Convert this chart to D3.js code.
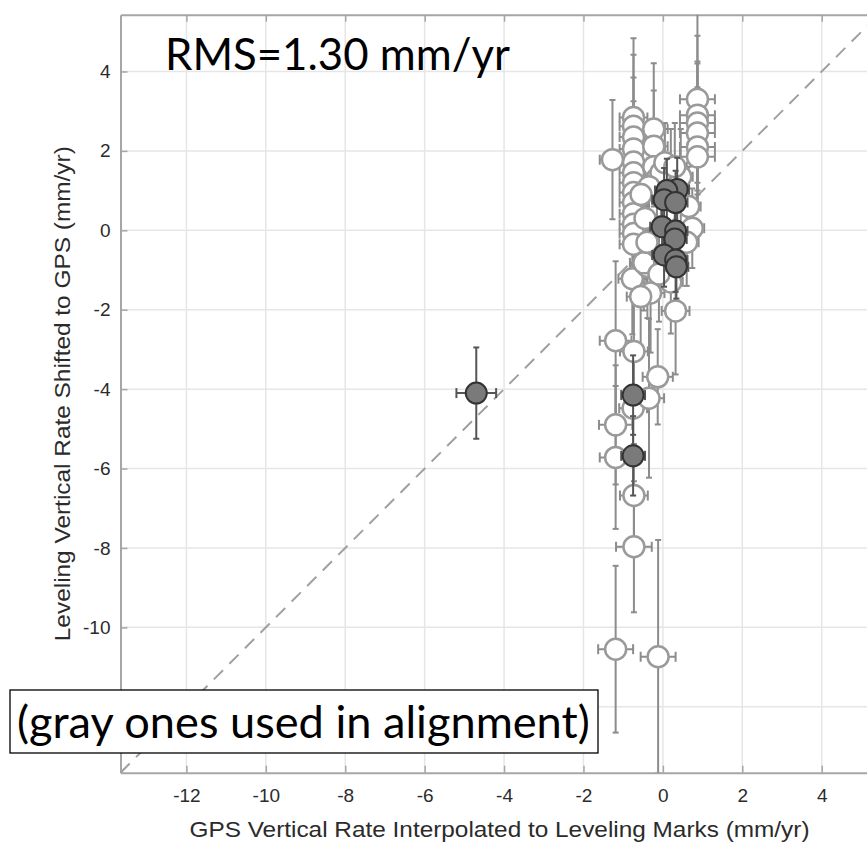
<!DOCTYPE html>
<html><head><meta charset="utf-8">
<script src="https://cdn.jsdelivr.net/npm/d3@7"></script>
<style>html,body{margin:0;padding:0;background:#fff;overflow:hidden}</style>
</head><body>
<svg id="c" width="867" height="843"></svg>
<script>
// White markers: stations not used in alignment
const whiteX    = [-0.74,-0.74,-0.74,-0.74,-0.74,-0.74,-0.74,-0.74,-0.74,-0.74,-0.74,-0.74,-0.74,-0.77,-0.73,-0.75,-0.73,-0.73,
                   -1.27,-1.19,-1.19,-1.19,-1.19,-0.23,-0.23,-0.23,-0.15,0.87,0.87,0.87,0.87,0.87,0.87,
                   0.2,0.45,-0.05,0.74,0.6,0.65,-0.39,-0.48,-0.31,-0.56,0.32,0.2,-0.1,-0.35,-0.13,-0.12,-0.45,-0.4,
                   0.05,0.3,-0.35,-0.55];
const whiteY    = [2.84,2.62,2.35,2.05,1.72,1.45,1.2,0.95,0.7,0.42,0.15,-0.08,-0.35,-1.22,-3.05,-4.48,-6.68,-7.97,
                   1.78,-2.78,-4.9,-5.72,-10.55,2.55,2.12,1.6,1.3,3.3,2.9,2.7,2.45,2.1,1.85,
                   1.55,1.35,1.45,0.05,-0.3,0.6,-0.91,-0.82,-1.58,-1.67,-2.03,-1.3,-1.1,-4.23,-3.69,-10.74,0.3,-0.3,
                   1.7,1.6,1.1,0.9];
const whiteXErr = [0.35,0.35,0.35,0.35,0.35,0.35,0.35,0.35,0.35,0.35,0.35,0.35,0.35,0.35,0.35,0.35,0.35,0.45,
                   0.32,0.4,0.42,0.4,0.44,0.35,0.35,0.35,0.35,0.44,0.44,0.44,0.44,0.44,0.44,
                   0.3,0.3,0.3,0.3,0.3,0.3,0.35,0.35,0.35,0.35,0.35,0.3,0.3,0.38,0.38,0.44,0.3,0.3,
                   0.3,0.3,0.3,0.3];
const whiteYErr = [2.0,1.8,1.5,1.2,1.3,1.1,1.0,1.2,1.0,1.3,1.1,1.2,1.0,1.4,1.5,1.2,1.3,1.65,
                   1.5,2.0,1.5,1.8,2.1,1.66,1.4,1.0,1.0,2.3,2.0,1.5,1.8,1.5,1.2,
                   1.0,1.2,1.1,1.0,1.1,1.0,1.3,1.2,1.5,1.4,1.6,1.3,1.2,2.0,1.2,2.94,1.2,1.2,
                   1.0,1.1,1.2,1.0];
// Gray markers: stations used in alignment
const grayX    = [-4.7,0.36,0.1,0.03,0.32,-0.02,0.32,0.3,0.03,0.32,0.34,-0.75,-0.75];
const grayY    = [-4.1,1.03,1.0,0.77,0.7,0.09,-0.02,-0.22,-0.62,-0.75,-0.92,-4.15,-5.68];
const grayXErr = [0.5,0.3,0.3,0.3,0.3,0.3,0.3,0.3,0.3,0.3,0.3,0.3,0.3];
const grayYErr = [1.15,0.8,0.8,0.8,0.8,0.8,0.8,0.8,0.8,0.8,0.8,1.0,1.0];

const xTicks = [-12,-10,-8,-6,-4,-2,0,2,4];
const yTicks = [-12,-10,-8,-6,-4,-2,0,2,4];
const yTickLabelsShown = [-10,-8,-6,-4,-2,0,2,4];
const axisMin = -13.66, axisMax = 5.43;
const xTitle = "GPS Vertical Rate Interpolated to Leveling Marks (mm/yr)";
const yTitle = "Leveling Vertical Rate Shifted to GPS (mm/yr)";
const rmsText = "RMS=1.30 mm/yr";
const noteText = "(gray ones used in alignment)";

const L = 120.5, T = 14.7, B = 772.7, R = 878.5;
const svg = d3.select("#c");
const x = d3.scaleLinear().domain([axisMin, axisMax]).range([L, R]);
const y = d3.scaleLinear().domain([axisMin, axisMax]).range([B, T]);

svg.append("defs").append("clipPath").attr("id","clip")
  .append("rect").attr("x",L).attr("y",T).attr("width",R-L).attr("height",B-T);

// grid
const grid = svg.append("g");
grid.selectAll(".vg").data(xTicks).join("line")
  .attr("x1",d=>x(d)).attr("x2",d=>x(d)).attr("y1",T).attr("y2",B)
  .attr("stroke","#e6e6e6").attr("stroke-width",1.5);
grid.selectAll(".hg").data(yTicks).join("line")
  .attr("y1",d=>y(d)).attr("y2",d=>y(d)).attr("x1",L).attr("x2",R)
  .attr("stroke","#e6e6e6").attr("stroke-width",1.5);

// axes (ticks inward)
const axCol = "#a6a6a6";
const fmt = d => String(d);
const gB = svg.append("g").attr("transform",`translate(0,${B})`)
  .call(d3.axisBottom(x).tickValues(xTicks).tickFormat(fmt).tickSizeInner(-7).tickSizeOuter(0).tickPadding(17));
const gT = svg.append("g").attr("transform",`translate(0,${T})`)
  .call(d3.axisTop(x).tickValues(xTicks).tickSizeInner(-7).tickSizeOuter(0).tickFormat(""));
const gL = svg.append("g").attr("transform",`translate(${L},0)`)
  .call(d3.axisLeft(y).tickValues(yTicks)
    .tickFormat(d => yTickLabelsShown.includes(d) ? String(d) : "")
    .tickSizeInner(-7).tickSizeOuter(0).tickPadding(17));
[gB,gT,gL].forEach(g=>{
  g.select(".domain").attr("stroke",axCol).attr("stroke-width",2);
  g.selectAll(".tick line").attr("stroke",axCol).attr("stroke-width",1.5);
  g.selectAll(".tick text").attr("fill","#2b2b2b").attr("font-size",19)
    .attr("font-family","'Liberation Sans', Arial, sans-serif");
});
gB.selectAll(".tick text").attr("y",16);
gL.selectAll(".tick text").attr("x",-10);

// 1:1 dashed line
svg.append("line")
  .attr("x1",x(axisMin)).attr("y1",y(axisMin)).attr("x2",x(axisMax)).attr("y2",y(axisMax))
  .attr("stroke","#a0a0a0").attr("stroke-width",2).attr("stroke-dasharray","13,9");

const plot = svg.append("g").attr("clip-path","url(#clip)");

function drawErr(g, xs, ys, xe, ye, col){
  const idx = d3.range(xs.length);
  const cap = 3, capV = 5;
  const eg = g.append("g").attr("stroke",col).attr("stroke-width",2).attr("fill","none");
  idx.forEach(i=>{
    const cx = x(xs[i]), cy = y(ys[i]);
    const y0 = y(ys[i]-ye[i]), y1 = y(ys[i]+ye[i]);
    const x0 = x(xs[i]-xe[i]), x1 = x(xs[i]+xe[i]);
    eg.append("line").attr("x1",cx).attr("x2",cx).attr("y1",y0).attr("y2",y1);
    eg.append("line").attr("x1",cx-cap).attr("x2",cx+cap).attr("y1",y0).attr("y2",y0);
    eg.append("line").attr("x1",cx-cap).attr("x2",cx+cap).attr("y1",y1).attr("y2",y1);
    eg.append("line").attr("x1",x0).attr("x2",x1).attr("y1",cy).attr("y2",cy);
    eg.append("line").attr("x1",x0).attr("x2",x0).attr("y1",cy-capV).attr("y2",cy+capV);
    eg.append("line").attr("x1",x1).attr("x2",x1).attr("y1",cy-capV).attr("y2",cy+capV);
  });
}
drawErr(plot, whiteX, whiteY, whiteXErr, whiteYErr, "#8c8c8c");
plot.append("g").selectAll("circle").data(d3.range(whiteX.length)).join("circle")
  .attr("cx",i=>x(whiteX[i])).attr("cy",i=>y(whiteY[i])).attr("r",10.5)
  .attr("fill","#fff").attr("stroke","#9a9a9a").attr("stroke-width",2.5);
drawErr(plot, grayX, grayY, grayXErr, grayYErr, "#555");
plot.append("g").selectAll("circle").data(d3.range(grayX.length)).join("circle")
  .attr("cx",i=>x(grayX[i])).attr("cy",i=>y(grayY[i])).attr("r",10.5)
  .attr("fill","#7a7a7a").attr("stroke","#333").attr("stroke-width",2);

// axis titles
svg.append("text").attr("x",(L+R)/2).attr("y",837).attr("text-anchor","middle")
  .attr("font-family","'Liberation Sans', Arial, sans-serif").attr("font-size",22).attr("fill","#2b2b2b")
  .attr("textLength",620).attr("lengthAdjust","spacingAndGlyphs").text(xTitle);
svg.append("text").attr("transform",`translate(70,${(T+B)/2}) rotate(-90)`).attr("text-anchor","middle")
  .attr("font-family","'Liberation Sans', Arial, sans-serif").attr("font-size",22).attr("fill","#2b2b2b")
  .attr("textLength",495).attr("lengthAdjust","spacingAndGlyphs").text(yTitle);

function fit(sel, target){
  const w = sel.node().getComputedTextLength();
  const fs = +sel.attr("font-size");
  sel.attr("font-size", fs*target/w);
}
// RMS annotation
const rms = svg.append("text").attr("x",165).attr("y",70)
  .attr("font-family","Lato, 'Open Sans', sans-serif").attr("font-size",40).attr("fill","#000").text(rmsText);
fit(rms, 345);

// note box
svg.append("rect").attr("x",10).attr("y",690).attr("width",588).attr("height",63)
  .attr("fill","#fff").attr("stroke","#000").attr("stroke-width",1.3);
const note = svg.append("text").attr("x",17).attr("y",738)
  .attr("font-family","Lato, 'Open Sans', sans-serif").attr("font-size",40).attr("fill","#000").text(noteText);
fit(note, 573);
</script>
</body></html>
